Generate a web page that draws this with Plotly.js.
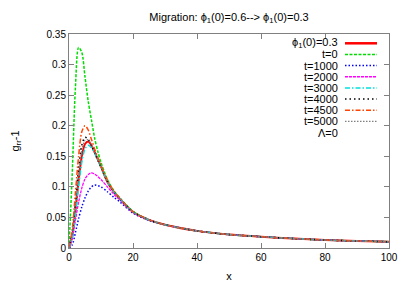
<!DOCTYPE html>
<html>
<head>
<meta charset="utf-8">
<script src="https://cdn.plot.ly/plotly-3.0.1.min.js"></script>
<style>html,body{margin:0;padding:0;background:#fff;}#chart{width:407px;height:285px;}</style>
</head>
<body>
<div id="chart"></div>
<script>
const xVals = [0, 1, 2, 3, 4, 5, 6, 7, 8, 9, 10, 12, 14, 16, 20, 25, 30, 40, 50, 60, 70, 80, 90, 100];

const phi03  = [0, 0.020, 0.060, 0.110, 0.150, 0.170, 0.174, 0.168, 0.157, 0.145, 0.133, 0.108, 0.092, 0.080, 0.059, 0.046, 0.038, 0.028, 0.022, 0.0185, 0.0155, 0.013, 0.0115, 0.0103];
const t0     = [0, 0.120, 0.262, 0.328, 0.320, 0.280, 0.240, 0.210, 0.180, 0.158, 0.140, 0.112, 0.094, 0.081, 0.060, 0.046, 0.038, 0.028, 0.022, 0.0185, 0.0155, 0.013, 0.0115, 0.0103];
const t1000  = [0, 0.005, 0.025, 0.048, 0.067, 0.082, 0.093, 0.100, 0.103, 0.102, 0.100, 0.092, 0.083, 0.075, 0.057, 0.045, 0.038, 0.028, 0.022, 0.0185, 0.0155, 0.013, 0.0115, 0.0103];
const t2000  = [0, 0.015, 0.045, 0.075, 0.098, 0.113, 0.120, 0.123, 0.121, 0.117, 0.112, 0.100, 0.088, 0.078, 0.058, 0.046, 0.038, 0.028, 0.022, 0.0185, 0.0155, 0.013, 0.0115, 0.0103];
const t3000  = [0, 0.018, 0.055, 0.100, 0.140, 0.162, 0.168, 0.164, 0.155, 0.144, 0.132, 0.108, 0.092, 0.080, 0.059, 0.046, 0.038, 0.028, 0.022, 0.0185, 0.0155, 0.013, 0.0115, 0.0103];
const t4000  = [0, 0.025, 0.075, 0.130, 0.168, 0.181, 0.178, 0.168, 0.156, 0.144, 0.132, 0.109, 0.092, 0.080, 0.059, 0.046, 0.038, 0.028, 0.022, 0.0185, 0.0155, 0.013, 0.0115, 0.0103];
const t4500  = [0, 0.030, 0.090, 0.150, 0.190, 0.200, 0.193, 0.178, 0.162, 0.148, 0.135, 0.111, 0.093, 0.081, 0.059, 0.046, 0.038, 0.028, 0.022, 0.0185, 0.0155, 0.013, 0.0115, 0.0103];
const t5000  = [0, 0.022, 0.070, 0.122, 0.160, 0.176, 0.177, 0.169, 0.157, 0.145, 0.133, 0.109, 0.092, 0.080, 0.059, 0.046, 0.038, 0.028, 0.022, 0.0185, 0.0155, 0.013, 0.0115, 0.0103];

const seriesNames = ['ϕ<sub>1</sub>(0)=0.3', 't=0', 't=1000', 't=2000', 't=3000', 't=4000', 't=4500', 't=5000'];
const seriesData = [phi03, t0, t1000, t2000, t3000, t4000, t4500, t5000];
const colors = ['#ff0000', '#00dd00', '#0000ff', '#ff00ff', '#00e0e0', '#000000', '#ff4500', '#808080'];
const dashes = ['solid', '3px,1.5px', '1.5px,2px', '3px,1px', '5px,2px,1.5px,2px', '1.5px,3px', '5px,2px,1.5px,2px', '1.5px,1.5px'];
const widths = [2.0, 1.5, 1.5, 1.3, 1.5, 1.5, 1.5, 1.2];
const extraLegend = 'Λ=0';

const traces = seriesData.map((ys, i) => ({
  x: xVals, y: ys, type: 'scatter', mode: 'lines', name: seriesNames[i],
  line: {color: colors[i], dash: dashes[i], width: widths[i], shape: 'spline', smoothing: 0.8},
  showlegend: false
}));

const L = 69, R = 389, T = 34, B = 248;
const px = v => (v - L) / (R - L);
const py = v => (B - v) / (B - T);
const annotations = [];
const shapes = [];
const rowStep = 11.15;
const legendLabels = seriesNames.concat([extraLegend]);
legendLabels.forEach((lab, i) => {
  const yy = 43.3 + i * rowStep;
  annotations.push({xref: 'paper', yref: 'paper', x: px(339.5), y: py(yy), text: lab, showarrow: false,
    xanchor: 'right', yanchor: 'middle', font: {family: 'Liberation Sans, Arial, sans-serif', size: 11, color: '#000'}});
  if (i < seriesNames.length) {
    shapes.push({type: 'line', xref: 'paper', yref: 'paper', x0: px(345), x1: px(377), y0: py(yy), y1: py(yy),
      line: {color: colors[i], dash: dashes[i], width: widths[i] + (i === 0 ? 0.5 : 0)}});
  }
});

const axisCommon = {
  showgrid: false, zeroline: false, showline: true, linecolor: '#808080', linewidth: 1, mirror: 'ticks',
  ticks: 'inside', ticklen: 5, tickcolor: '#808080',
  tickfont: {family: 'Liberation Sans, Arial, sans-serif', size: 10, color: '#000'}
};

const layout = {
  width: 407, height: 285,
  margin: {l: L, r: 407 - R, t: T, b: 285 - B, pad: 0},
  paper_bgcolor: '#fff', plot_bgcolor: '#fff',
  title: {text: 'Migration: ϕ<sub>1</sub>(0)=0.6--> ϕ<sub>1</sub>(0)=0.3', x: 229 / 407, xanchor: 'center', y: 1 - 17 / 285, yanchor: 'middle',
    font: {family: 'Liberation Sans, Arial, sans-serif', size: 11, color: '#000'}},
  xaxis: Object.assign({}, axisCommon, {range: [0, 100], tickvals: [0, 20, 40, 60, 80, 100], ticktext: ['0', '20', '40', '60', '80', '100'],
    title: {text: 'x', standoff: 10, font: {family: 'Liberation Sans, Arial, sans-serif', size: 11, color: '#000'}}}),
  yaxis: Object.assign({}, axisCommon, {range: [0, 0.35], tickvals: [0, 0.05, 0.1, 0.15, 0.2, 0.25, 0.3, 0.35], ticktext: ['0', '0.05', '0.1', '0.15', '0.2', '0.25', '0.3', '0.35'],
    title: {text: 'g<sub>rr</sub>-1', standoff: 24, font: {family: 'Liberation Sans, Arial, sans-serif', size: 11, color: '#000'}}}),
  showlegend: false,
  annotations: annotations,
  shapes: shapes
};

Plotly.newPlot('chart', traces, layout, {displayModeBar: false, staticPlot: true});
</script>
</body>
</html>
